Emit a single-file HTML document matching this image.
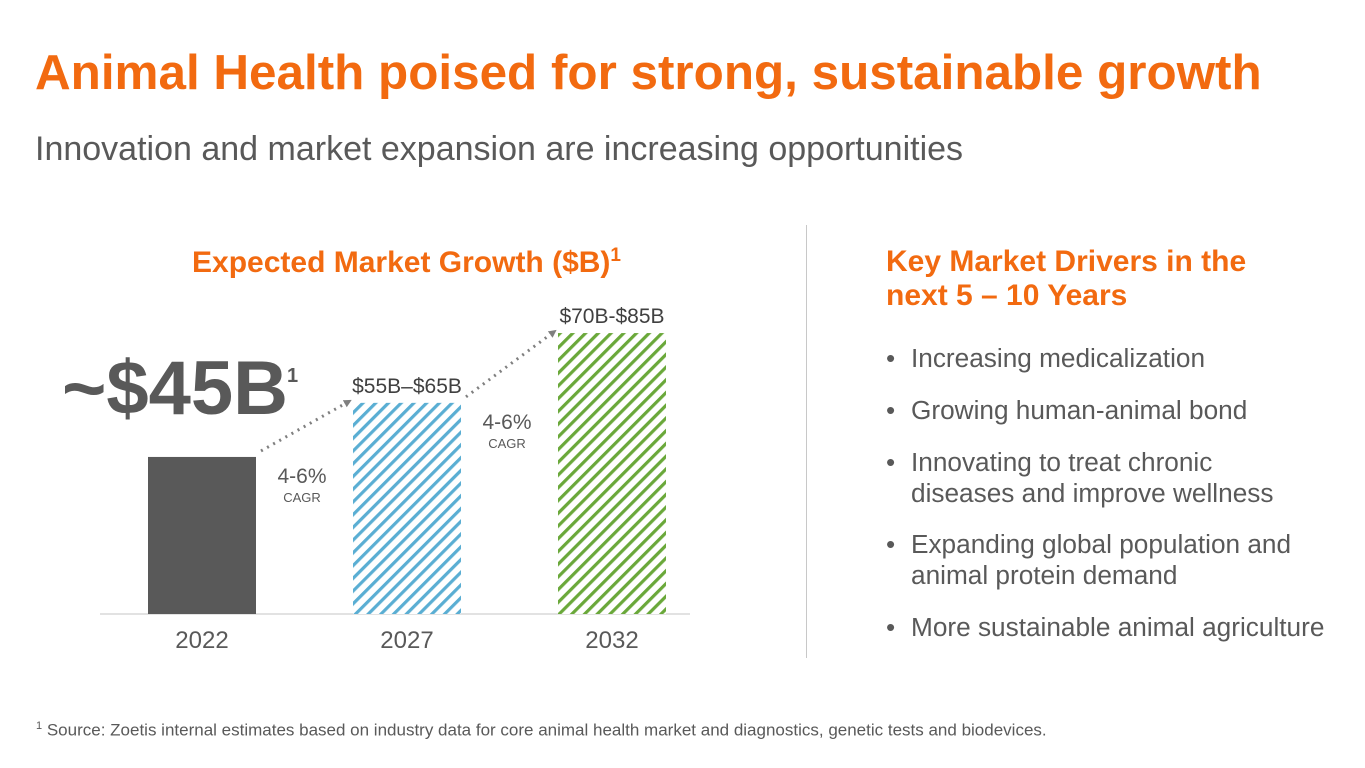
<!DOCTYPE html>
<html><head><meta charset="utf-8">
<style>
body{margin:0;width:1365px;height:768px;background:#fff;font-family:"Liberation Sans",sans-serif;position:relative;overflow:hidden;color:#595959}
.abs{position:absolute;white-space:nowrap}
.dr{position:absolute;left:0}
.dr b{position:absolute;left:0;font-weight:normal}
.dr span{position:absolute;left:25px;white-space:nowrap}
</style></head><body>
<div class="abs" style="left:35px;top:44px;font-size:49.4px;font-weight:bold;color:#f26a10">Animal Health poised for strong, sustainable growth</div>
<div class="abs" style="left:35px;top:130px;font-size:34px;color:#595959">Innovation and market expansion are increasing opportunities</div>
<div class="abs" style="left:192px;top:245px;font-size:30px;font-weight:bold;color:#f26a10">Expected Market Growth ($B)<sup style="font-size:19px">1</sup></div>
<div class="abs" style="left:806px;top:225px;width:1px;height:433px;background:#c8c8c8"></div>
<div class="abs" style="left:886px;top:245px;font-size:30px;font-weight:bold;color:#f26a10;line-height:34px">Key Market Drivers in the<br>next 5 – 10 Years</div>
<div class="abs" style="left:886px;top:343px;font-size:26.2px;line-height:31px;color:#595959;width:470px;height:320px">
<div class="dr" style="top:0"><b>•</b><span>Increasing medicalization</span></div>
<div class="dr" style="top:52px"><b>•</b><span>Growing human-animal bond</span></div>
<div class="dr" style="top:104px"><b>•</b><span>Innovating to treat chronic<br>diseases and improve wellness</span></div>
<div class="dr" style="top:186px"><b>•</b><span>Expanding global population and<br>animal protein demand</span></div>
<div class="dr" style="top:269px"><b>•</b><span>More sustainable animal agriculture</span></div>
</div>
<div class="abs" style="left:36px;top:720px;font-size:17px;color:#595959"><sup style="font-size:11px">1</sup> Source: Zoetis internal estimates based on industry data for core animal health market and diagnostics, genetic tests and biodevices.</div>

<svg id="chart" width="1365" height="768" style="position:absolute;left:0;top:0">
<defs>
<pattern id="hb" patternUnits="userSpaceOnUse" width="9" height="9" patternTransform="rotate(45)"><rect width="9" height="9" fill="#fff"/><rect width="3.2" height="9" fill="#5aaed3"/></pattern>
<pattern id="hg" patternUnits="userSpaceOnUse" width="9" height="9" patternTransform="rotate(45)"><rect width="9" height="9" fill="#fff"/><rect width="3.2" height="9" fill="#6aa83a"/></pattern>
<marker id="ar" markerWidth="8" markerHeight="8" refX="6" refY="4" orient="auto" markerUnits="userSpaceOnUse"><path d="M0,0 L8,4 L0,8z" fill="#7f7f7f"/></marker>
</defs>
</svg>
<script>
const categories=["2022","2027","2032"];
const values=[45,60.5,80.5];
const valueLabels=["","$55B–$65B","$70B-$85B"];
const cagrLabels=["4-6%","4-6%"];
const svg=document.getElementById('chart');const NS='http://www.w3.org/2000/svg';
const base=614,scale=3.49,x0=148,step=205,bw=108;
const xs=i=>x0+i*step;const y=v=>base-v*scale;
function mk(t,a){const e=document.createElementNS(NS,t);for(const k in a)e.setAttribute(k,a[k]);svg.appendChild(e);return e;}
const axis=mk('line',{x1:100,x2:690,y1:base,y2:base,stroke:'#d9d9d9','stroke-width':1.5});


const fills=['#595959','url(#hb)','url(#hg)'];
categories.forEach((c,i)=>{
 const r=mk('rect',{x:xs(i),y:y(values[i]),width:bw,height:values[i]*scale,fill:fills[i]});
 
 
 const t=mk('text',{x:xs(i)+bw/2,y:648,'text-anchor':'middle','font-size':24,fill:'#595959','font-family':'Liberation Sans'});t.textContent=c;
 
 
 if(valueLabels[i]){const v=mk('text',{x:xs(i)+bw/2,y:y(values[i])-10,'text-anchor':'middle','font-size':21,fill:'#404040','font-family':'Liberation Sans'});v.textContent=valueLabels[i];
 
 }
});
const big=mk('text',{x:62,y:414,'font-size':76,'font-weight':'bold',fill:'#595959','font-family':'Liberation Sans'});big.textContent='~$45B';


const sup=mk('text',{x:287,y:382,'font-size':20,'font-weight':'bold',fill:'#595959','font-family':'Liberation Sans'});sup.textContent='1';


for(let i=0;i<2;i++){
 const l=mk('line',{x1:xs(i)+bw+5,y1:y(values[i])-6,x2:xs(i+1)-3,y2:y(values[i+1])-2,stroke:'#7f7f7f','stroke-width':3,'stroke-dasharray':'2 5','marker-end':'url(#ar)'});
 
 
 const cx=xs(i)+bw+46, cy=y(values[i])+26;
 const a=mk('text',{x:cx,y:cy,'text-anchor':'middle','font-size':21,fill:'#595959','font-family':'Liberation Sans'});a.textContent=cagrLabels[i];
 
 
 const b=mk('text',{x:cx,y:cy+19,'text-anchor':'middle','font-size':13,fill:'#595959','font-family':'Liberation Sans'});b.textContent='CAGR';
 
 
}
</script>
</body></html>
